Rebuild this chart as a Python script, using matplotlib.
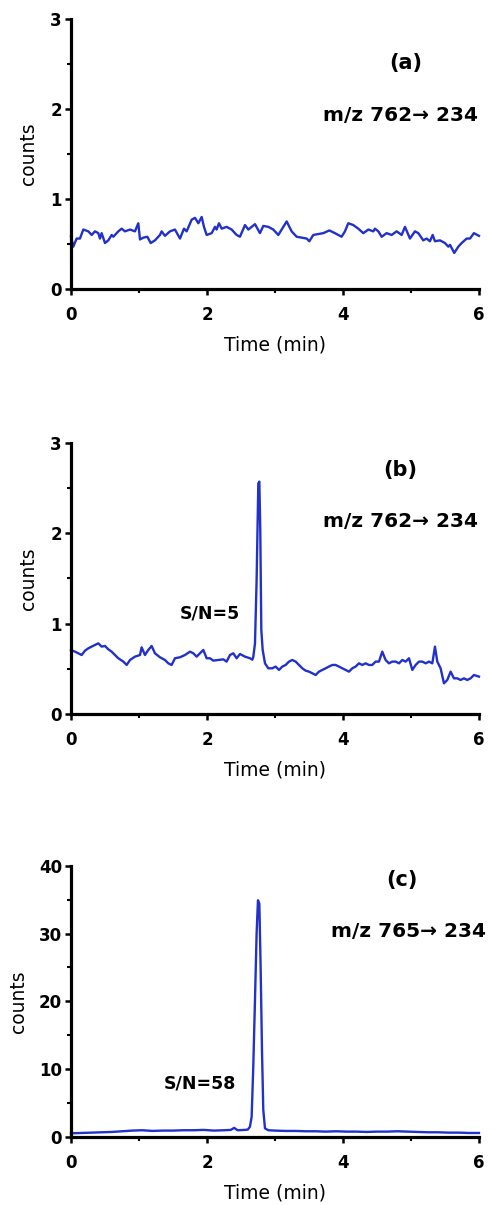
import numpy as np
import matplotlib
matplotlib.use("Agg")
import matplotlib.pyplot as plt
from matplotlib.ticker import MultipleLocator

# ---- data ----
# (a) blank, m/z 762 -> 234
ta = [0.0, 0.034, 0.083, 0.132, 0.181, 0.255, 0.304, 0.353, 0.402, 0.426, 0.451, 0.5,
      0.549, 0.598, 0.623, 0.696, 0.745, 0.794, 0.868, 0.941, 0.99, 1.015, 1.064, 1.123,
      1.172, 1.235, 1.309, 1.333, 1.382, 1.456, 1.529, 1.603, 1.662, 1.701, 1.775, 1.824,
      1.873, 1.922, 1.956, 1.995, 2.069, 2.118, 2.142, 2.176, 2.216, 2.289, 2.363, 2.436,
      2.485, 2.559, 2.608, 2.706, 2.779, 2.828, 2.902, 2.975, 3.049, 3.172, 3.245, 3.319,
      3.392, 3.466, 3.505, 3.564, 3.637, 3.711, 3.799, 3.882, 3.98, 4.029, 4.078, 4.152,
      4.225, 4.299, 4.373, 4.446, 4.471, 4.52, 4.569, 4.642, 4.716, 4.789, 4.863, 4.912,
      4.985, 5.059, 5.108, 5.181, 5.23, 5.279, 5.319, 5.353, 5.426, 5.5, 5.549, 5.574,
      5.637, 5.696, 5.745, 5.819, 5.868, 5.926, 6.0]
ya = [0.58, 0.47, 0.56, 0.56, 0.66, 0.64, 0.60, 0.64, 0.62, 0.56, 0.62, 0.51,
      0.54, 0.60, 0.58, 0.64, 0.67, 0.64, 0.66, 0.64, 0.73, 0.55, 0.57, 0.58,
      0.51, 0.54, 0.60, 0.64, 0.59, 0.64, 0.66, 0.56, 0.67, 0.64, 0.77, 0.79,
      0.73, 0.80, 0.69, 0.60, 0.62, 0.69, 0.66, 0.73, 0.67, 0.69, 0.66, 0.60,
      0.58, 0.71, 0.66, 0.72, 0.62, 0.70, 0.69, 0.66, 0.60, 0.75, 0.64, 0.58,
      0.57, 0.56, 0.53, 0.60, 0.61, 0.62, 0.65, 0.62, 0.58, 0.64, 0.73, 0.71,
      0.67, 0.62, 0.66, 0.64, 0.67, 0.64, 0.58, 0.62, 0.60, 0.64, 0.60, 0.69,
      0.56, 0.64, 0.62, 0.54, 0.56, 0.53, 0.60, 0.53, 0.54, 0.51, 0.47, 0.49,
      0.40, 0.47, 0.51, 0.56, 0.56, 0.62, 0.59]

# (b) spiked at LOD level, m/z 762 -> 234
tb = [0.0, 0.059, 0.108, 0.157, 0.206, 0.255, 0.304, 0.353, 0.402, 0.451, 0.5, 0.549,
      0.598, 0.647, 0.696, 0.77, 0.819, 0.868, 0.941, 1.015, 1.039, 1.088, 1.137, 1.186,
      1.235, 1.309, 1.382, 1.431, 1.48, 1.529, 1.603, 1.676, 1.75, 1.799, 1.848, 1.897,
      1.946, 1.995, 2.044, 2.093, 2.167, 2.24, 2.289, 2.338, 2.387, 2.436, 2.485, 2.559,
      2.632,
      2.667, 2.681, 2.706, 2.73, 2.755, 2.77, 2.784, 2.799, 2.819, 2.853, 2.902,
      2.961, 3.01, 3.059, 3.108, 3.157, 3.206, 3.255, 3.304, 3.353, 3.402, 3.451, 3.5,
      3.549, 3.598, 3.647, 3.696, 3.745, 3.794, 3.843, 3.892, 3.941, 3.99, 4.039, 4.088,
      4.137, 4.186, 4.235, 4.284, 4.333, 4.382, 4.431, 4.48, 4.529, 4.578, 4.627, 4.676,
      4.725, 4.775, 4.824, 4.873, 4.922, 4.971, 5.02, 5.069, 5.118, 5.167, 5.216, 5.265,
      5.314, 5.353, 5.387, 5.436, 5.485, 5.534, 5.583, 5.632, 5.681, 5.73, 5.779, 5.828,
      5.877, 5.926, 6.0]
yb = [0.708, 0.689, 0.671, 0.652, 0.700, 0.726, 0.745, 0.763, 0.781, 0.745, 0.752, 0.715,
      0.689, 0.652, 0.616, 0.579, 0.542, 0.597, 0.634, 0.652, 0.737, 0.652, 0.708, 0.752,
      0.671, 0.627, 0.597, 0.560, 0.542, 0.616, 0.627, 0.652, 0.689, 0.671, 0.634, 0.671,
      0.708, 0.616, 0.616, 0.590, 0.597, 0.604, 0.579, 0.652, 0.671, 0.616, 0.663, 0.634,
      0.616,
      0.60, 0.63, 0.78, 1.48, 2.55, 2.57, 2.03, 0.93, 0.71, 0.56, 0.505,
      0.505, 0.524, 0.487, 0.524, 0.542, 0.579, 0.597, 0.579, 0.542, 0.505, 0.479, 0.468,
      0.450, 0.431, 0.468, 0.487, 0.505, 0.524, 0.542, 0.542, 0.524, 0.505, 0.487, 0.468,
      0.505, 0.524, 0.560, 0.542, 0.560, 0.542, 0.542, 0.579, 0.579, 0.689, 0.597, 0.560,
      0.579, 0.579, 0.560, 0.597, 0.579, 0.616, 0.487, 0.542, 0.579, 0.579, 0.560, 0.579,
      0.560, 0.745, 0.579, 0.505, 0.339, 0.376, 0.468, 0.394, 0.394, 0.376, 0.394, 0.376,
      0.394, 0.431, 0.413]

# (c) internal standard, m/z 765 -> 234
tc = [0.0, 0.15, 0.3, 0.45, 0.6, 0.75, 0.9, 1.05, 1.2, 1.35, 1.5, 1.65, 1.8, 1.95,
      2.1, 2.25, 2.35, 2.4, 2.45, 2.55, 2.6, 2.632, 2.657, 2.681, 2.706, 2.73, 2.75,
      2.77, 2.789, 2.809, 2.828, 2.853, 2.902, 3.0, 3.15, 3.3, 3.45, 3.6, 3.75, 3.9,
      4.05, 4.2, 4.35, 4.5, 4.65, 4.8, 4.95, 5.1, 5.25, 5.4, 5.55, 5.7, 5.85, 6.0]
yc = [0.55, 0.6, 0.65, 0.7, 0.75, 0.85, 0.95, 1.0, 0.9, 0.95, 0.95, 1.0, 1.0, 1.05,
      0.95, 1.0, 1.05, 1.35, 1.0, 1.05, 1.1, 1.52, 3.0, 10.4, 20.2, 30.0, 34.9,
      34.4, 25.1, 12.8, 4.0, 1.28, 1.0, 0.95, 0.9, 0.9, 0.85, 0.85, 0.8, 0.85,
      0.8, 0.8, 0.75, 0.8, 0.8, 0.85, 0.8, 0.75, 0.7, 0.7, 0.65, 0.65, 0.6, 0.6]

tags = ["(a)", "(b)", "(c)"]
transitions = ["m/z 762\u2192 234", "m/z 762\u2192 234", "m/z 765\u2192 234"]
sn_labels = [None, "S/N=5", "S/N=58"]

LINE = "#2131c9"

plt.rcParams["font.family"] = ["DejaVu Sans"]

fig = plt.figure(figsize=(4.95, 12.05), dpi=100)

# axes boxes in figure fraction (left, bottom, width, height)
boxes = [(0.1434, 0.7602, 0.8242, 0.2241),
         (0.1434, 0.4075, 0.8242, 0.2251),
         (0.1434, 0.0564, 0.8242, 0.2252)]
series = [(ta, ya), (tb, yb), (tc, yc)]
ymaxs = [3, 3, 40]
ymajor = [1, 1, 10]
yminor = [0.5, 0.5, 5]
tag_pos = [(4.93, 2.51), (4.84, 2.70), (4.86, 37.9)]
tr_pos = [(4.85, 1.93), (4.85, 2.13), (4.97, 30.3)]
sn_pos = [None, (2.04, 1.11), (1.90, 7.9)]
ylab_x = [-0.081, -0.081, -0.105]

for i in range(3):
    ax = fig.add_axes(boxes[i])
    t, y = series[i]
    ax.plot(t, y, color=LINE, lw=1.7, solid_joinstyle="round", clip_on=False)

    ax.set_xlim(0, 6)
    ax.set_ylim(0, ymaxs[i])
    ax.xaxis.set_major_locator(MultipleLocator(2))
    ax.xaxis.set_minor_locator(MultipleLocator(1))
    ax.yaxis.set_major_locator(MultipleLocator(ymajor[i]))
    ax.yaxis.set_minor_locator(MultipleLocator(yminor[i]))

    for s in ["top", "right"]:
        ax.spines[s].set_visible(False)
    for s in ["left", "bottom"]:
        ax.spines[s].set_linewidth(2.3)

    ax.tick_params(which="major", direction="out", length=4.5, width=1.8,
                   labelsize=12, pad=2)
    ax.tick_params(axis="x", which="major", pad=7.5)
    ax.tick_params(which="minor", direction="out", length=3, width=1.5)
    for lab in ax.get_xticklabels() + ax.get_yticklabels():
        lab.set_fontweight("bold")

    ax.set_xlabel("Time (min)", fontsize=13.5)
    ax.set_ylabel("counts", fontsize=13.5)
    ax.xaxis.set_label_coords(0.5, -0.172)
    ax.yaxis.set_label_coords(ylab_x[i], 0.5)

    ax.text(*tag_pos[i], tags[i], ha="center", va="center",
            fontsize=15, fontweight="bold")
    ax.text(*tr_pos[i], transitions[i], ha="center", va="center",
            fontsize=14.5, fontweight="bold")
    if sn_labels[i]:
        ax.text(*sn_pos[i], sn_labels[i], ha="center", va="center",
                fontsize=12.5, fontweight="bold")

fig.savefig("out.png", dpi=100)
